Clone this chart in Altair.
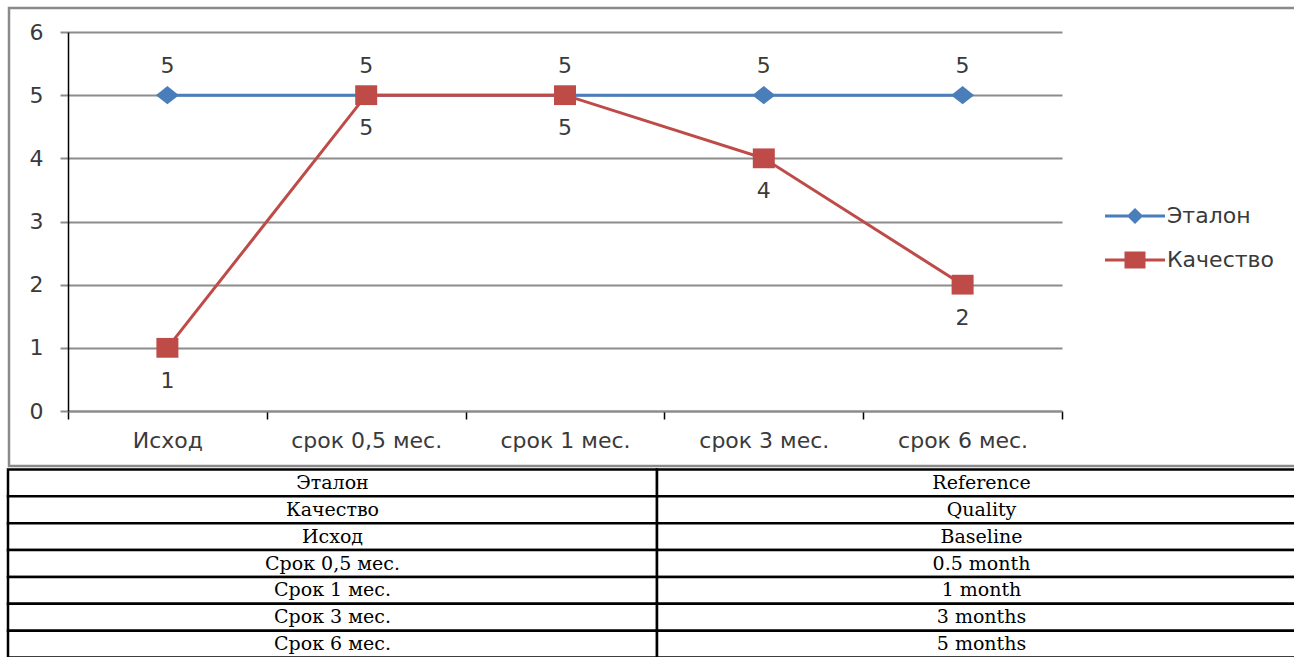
import altair as alt
import pandas as pd

# ---------------- data ----------------
categories = ["Исход", "срок 0,5 мес.", "срок 1 мес.", "срок 3 мес.", "срок 6 мес."]
series_names = ["Эталон", "Качество"]
etalon = [5, 5, 5, 5, 5]
kachestvo = [1, 5, 5, 4, 2]
y_ticks = [0, 1, 2, 3, 4, 5, 6]

table_left = ["Эталон", "Качество", "Исход", "Срок 0,5 мес.", "Срок 1 мес.", "Срок 3 мес.", "Срок 6 мес."]
table_right = ["Reference", "Quality", "Baseline", "0.5 month", "1 month", "3 months", "5 months"]
table_cols = ["ru", "en"]

# ---------------- style ----------------
BLUE = "#4A7EBB"
RED = "#BE4B48"
TXT = "#3A3A3A"
GRID = "#8C8C8C"
SANS = "DejaVu Sans"
SERIF = "DejaVu Serif"
FS = 22
W, H = 994, 379

DIAMOND_PT = "M0,-0.8L1,0L0,0.8L-1,0Z"
SQUARE_PT = "M-1,-0.9L1,-0.9L1,0.9L-1,0.9Z"
LEG_D = "M-3,0L3,0M0,-0.6L0.6,0L0,0.6L-0.6,0Z"
LEG_S = "M-3,0L3,0M-0.9,-0.7L0.9,-0.7L0.9,0.7L-0.9,0.7Z"

df_e = pd.DataFrame({"cat": categories, "value": etalon, "series": series_names[0]})
df_k = pd.DataFrame({"cat": categories, "value": kachestvo, "series": series_names[1]})

rows = []
for i, (l, r) in enumerate(zip(table_left, table_right)):
    rows.append({"col": table_cols[0], "row": i, "text": l})
    rows.append({"col": table_cols[1], "row": i, "text": r})
df_t = pd.DataFrame(rows)

# ---------------- encodings ----------------
x_enc = alt.X(
    "cat:N",
    sort=categories,
    scale=alt.Scale(type="band", domain=categories, paddingInner=0, paddingOuter=0),
    axis=alt.Axis(
        title=None, labelAngle=0, tickBand="extent", tickSize=8, tickColor="black",
        tickWidth=1.5, domainColor=GRID, domainWidth=2, labelFont=SANS,
        labelFontSize=FS, labelColor=TXT, labelPadding=11, grid=False,
    ),
)
y_enc = alt.Y(
    "value:Q",
    scale=alt.Scale(domain=[0, 6], nice=False, zero=True),
    axis=alt.Axis(
        title=None, values=y_ticks, format="d", grid=True, gridColor=GRID,
        gridWidth=2, domainColor="black", domainWidth=1.5, tickColor=GRID,
        tickWidth=2, tickSize=8, labelPadding=17, labelFont=SANS,
        labelFontSize=FS, labelColor=TXT,
    ),
)

T = "datum.value === '" + series_names[0] + "'"
legend = alt.Legend(
    title=None, orient="none", legendX=1055.5, legendY=172.5,
    symbolSize=400, symbolStrokeWidth=3, symbolOffset=0, labelOffset=20.5,
    rowPadding=18, labelFont=SANS, labelFontSize=FS, labelColor=TXT,
    symbolType=alt.ExprRef(expr=T + " ? '" + LEG_D + "' : '" + LEG_S + "'"),
    symbolFillColor=alt.ExprRef(expr=T + " ? '" + BLUE + "' : '" + RED + "'"),
    symbolStrokeColor=alt.ExprRef(expr=T + " ? '" + BLUE + "' : '" + RED + "'"),
    symbolOpacity=1,
)
color_enc = alt.Color(
    "series:N", scale=alt.Scale(domain=series_names, range=[BLUE, RED]), legend=legend
)

line_e = alt.Chart(df_e).mark_line(strokeWidth=3).encode(x=x_enc, y=y_enc, color=color_enc)
pts_e = alt.Chart(df_e).mark_point(
    shape=DIAMOND_PT, size=529, filled=True, color=BLUE, opacity=1, strokeWidth=0
).encode(x=x_enc, y=y_enc)
line_k = alt.Chart(df_k).mark_line(strokeWidth=3).encode(x=x_enc, y=y_enc, color=color_enc)
pts_k = alt.Chart(df_k).mark_point(
    shape=SQUARE_PT, size=484, filled=True, color=RED, opacity=1, strokeWidth=0
).encode(x=x_enc, y=y_enc)
lab_e = alt.Chart(df_e).mark_text(
    dy=-29, font=SANS, fontSize=FS, color=TXT, baseline="middle"
).encode(x=x_enc, y=y_enc, text="value:Q")
lab_k = alt.Chart(df_k).mark_text(
    dy=33, font=SANS, fontSize=FS, color=TXT, baseline="middle"
).encode(x=x_enc, y=y_enc, text="value:Q")

chart_part = alt.layer(line_e, pts_e, line_k, pts_k, lab_e, lab_k)

# frame around the chart area
frame = alt.Chart(pd.DataFrame({"a": [0]})).mark_rect(
    fill="white", fillOpacity=0, stroke="#8A8A8A", strokeWidth=2.5
).encode(x=alt.value(-59), x2=alt.value(1240), y=alt.value(-24), y2=alt.value(434))

# table below
tx = alt.X("col:N", sort=table_cols,
           scale=alt.Scale(type="band", domain=table_cols, range=[-60, 1238],
                           paddingInner=0, paddingOuter=0), axis=None)
ty = alt.Y("row:O",
           scale=alt.Scale(type="band", domain=list(range(len(table_left))),
                           range=[437.5, 625.5], paddingInner=0, paddingOuter=0), axis=None)
t_rect = alt.Chart(df_t).mark_rect(fill="white", stroke="black", strokeWidth=2.5).encode(x=tx, y=ty)
t_text = alt.Chart(df_t).mark_text(font=SERIF, fontSize=19, color="black", baseline="middle").encode(
    x=tx, y=ty, text="text:N")
table_part = alt.layer(t_rect, t_text)

chart = alt.layer(frame, chart_part, table_part).resolve_scale(
    x="independent", y="independent"
).properties(
    width=W, height=H,
    padding={"left": 68, "top": 32, "right": 1294 - 68 - W, "bottom": 657 - 32 - H},
    autosize=alt.AutoSizeParams(type="none"),
    background="white",
).configure_view(strokeWidth=0)

chart.save("out.html", embed_options={"renderer": "svg", "actions": False})
